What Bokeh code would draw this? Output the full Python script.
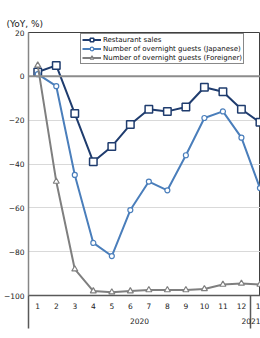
from bokeh.plotting import figure
from bokeh.models import (Range1d, FixedTicker, LinearAxis, Span, Legend, LegendItem, ColumnDataSource)
from bokeh.embed import file_html
from bokeh.resources import INLINE

months = [1, 2, 3, 4, 5, 6, 7, 8, 9, 10, 11, 12, 13]
month_labels = ["1", "2", "3", "4", "5", "6", "7", "8", "9", "10", "11", "12", "1"]
year_pos = [6.5, 13]
year_labels = ["2020", "2021"]
restaurant = [2, 5, -17, -39, -32, -22, -15, -16, -14, -5, -7, -15, -21]
japanese = [1, -4.5, -45, -76, -82, -61, -48, -52, -36, -19, -16, -28, -51]
foreigner = [5, -48, -88, -98, -98.5, -98, -97.5, -97.5, -97.5, -97, -95, -94.5, -95]

FONT = "DejaVu Sans"
navy = "#1f3c6e"
blue = "#4a7ebb"
grey = "#7f7f7f"

p = figure(width=260, height=338, output_backend="svg", toolbar_location=None,
           x_range=Range1d(0.5, 13.03), y_range=Range1d(-100, 20),
           min_border_left=27, min_border_right=0, min_border_top=32, min_border_bottom=43,
           x_axis_type=None)
p.outline_line_color = "#404040"
p.outline_line_width = 1
p.background_fill_color = "white"
p.border_fill_color = "white"

p.title.text = "(YoY, %)"
p.title.text_font = FONT
p.title.text_font_size = "9px"
p.title.text_font_style = "normal"
p.title.text_color = "#222222"
p.title.align = "left"
p.title.vertical_align = "middle"
p.title.offset = -22
p.title.standoff = 6

# y axis
yax = p.yaxis[0]
yax.ticker = FixedTicker(ticks=[-100, -80, -60, -40, -20, 0, 20])
yax.major_label_text_font = FONT
yax.major_label_text_font_size = "7.5px"
yax.major_label_text_color = "#222222"
yax.major_tick_out = 0
yax.major_tick_in = 0
yax.minor_tick_out = 0
yax.minor_tick_in = 0
yax.major_label_standoff = 4
yax.axis_line_color = "#868686"
yax.axis_line_width = 1.5

p.ygrid.ticker = FixedTicker(ticks=[-80, -60, -40, -20])
p.ygrid.grid_line_color = "#d9d9d9"
p.xgrid.grid_line_color = None

p.add_layout(Span(location=0, dimension="width", line_color="#8c8c8c", line_width=2))

# x axis (months) with group separators
xax = LinearAxis(ticker=FixedTicker(ticks=months, minor_ticks=[0.5, 12.5]))
xax.major_label_overrides = {m: l for m, l in zip(months, month_labels)}
xax.major_label_text_font = FONT
xax.major_label_text_font_size = "7.5px"
xax.major_label_text_color = "#222222"
xax.major_tick_out = 0
xax.major_tick_in = 0
xax.minor_tick_in = 0
xax.minor_tick_out = 33
xax.minor_tick_line_color = "#595959"
xax.minor_tick_line_width = 1.5
xax.major_label_standoff = -26
xax.axis_line_color = "#595959"
xax.axis_line_width = 1.5
p.add_layout(xax, "below")

yr = LinearAxis(ticker=FixedTicker(ticks=year_pos))
yr.major_label_overrides = {k: v for k, v in zip(year_pos, year_labels)}
yr.major_label_text_font = FONT
yr.major_label_text_font_size = "7.5px"
yr.major_label_text_color = "#222222"
yr.major_tick_out = 0
yr.major_tick_in = 0
yr.minor_tick_out = 0
yr.minor_tick_in = 0
yr.axis_line_color = None
yr.major_label_standoff = 6
p.add_layout(yr, "below")

src = ColumnDataSource(dict(x=months, r=restaurant, j=japanese, f=foreigner))

lr = p.line("x", "r", source=src, line_color=navy, line_width=2)
mr = p.scatter("x", "r", source=src, marker="square", size=7.5, fill_color="white", line_color=navy, line_width=1.5)
lj = p.line("x", "j", source=src, line_color=blue, line_width=2)
mj = p.scatter("x", "j", source=src, marker="circle", size=5, fill_color="white", line_color=blue, line_width=1.2)
lf = p.line("x", "f", source=src, line_color=grey, line_width=2)
mf = p.scatter("x", "f", source=src, marker="triangle", size=6, fill_color="white", line_color=grey, line_width=1.2)

legend = Legend(items=[
    LegendItem(label="Restaurant sales", renderers=[lr, mr]),
    LegendItem(label="Number of overnight guests (Japanese)", renderers=[lj, mj]),
    LegendItem(label="Number of overnight guests (Foreigner)", renderers=[lf, mf]),
], location=(52, 231))
legend.label_text_font = FONT
legend.label_text_font_size = "7px"
legend.label_text_color = "#111111"
legend.label_height = 9
legend.glyph_height = 9
legend.glyph_width = 19
legend.label_standoff = 2
legend.spacing = 0
legend.padding = 1
legend.margin = 0
legend.border_line_color = "#111111"
legend.border_line_width = 1
legend.background_fill_color = "white"
legend.background_fill_alpha = 1
p.add_layout(legend, "center")

open("out.html", "w").write(file_html(p, INLINE))
